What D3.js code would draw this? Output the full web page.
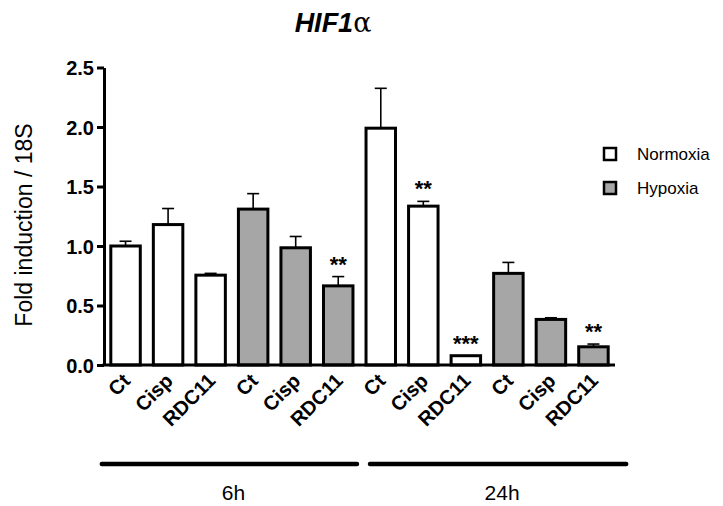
<!DOCTYPE html>
<html><head><meta charset="utf-8">
<script src="https://cdn.jsdelivr.net/npm/d3@7"></script>
<style>
body{margin:0;background:#fff;}
svg{display:block;font-family:"Liberation Sans",Arial,Helvetica,sans-serif;}
</style></head>
<body><svg id="c" width="723" height="506"></svg>
<script>
const categories = ["Ct","Cisp","RDC11","Ct","Cisp","RDC11","Ct","Cisp","RDC11","Ct","Cisp","RDC11"];
const conditions = ["Normoxia","Normoxia","Normoxia","Hypoxia","Hypoxia","Hypoxia","Normoxia","Normoxia","Normoxia","Hypoxia","Hypoxia","Hypoxia"];
const timepoints = ["6h","24h"];
const means = [1.00,1.18,0.755,1.31,0.985,0.665,1.99,1.335,0.078,0.77,0.383,0.153];
const sems  = [0.04,0.135,0.015,0.13,0.095,0.078,0.335,0.04,0.0,0.092,0.014,0.023];
const stars = ["","","","","","**","","**","***","","","**"];
const yTicks = [0,0.5,1.0,1.5,2.0,2.5];
const legendItems = ["Normoxia","Hypoxia"];
const fills = {Normoxia:"#ffffff", Hypoxia:"#a6a6a6"};

const svg = d3.select("#c");
const y = d3.scaleLinear().domain([0,2.5]).range([365,67.5]);
const x = d3.scaleBand().domain(d3.range(categories.length)).range([104,615]).paddingInner(0.307).paddingOuter(0.16);
const bw = x.bandwidth();

// title
const t = svg.append("text").attr("x",333).attr("y",32).attr("text-anchor","middle");
t.append("tspan").text("HIF1").attr("font-weight","bold").attr("font-style","italic").attr("font-size",27);
t.append("tspan").text("α").attr("font-family","'DejaVu Serif','Liberation Serif',serif").attr("font-size",27);

// y label
svg.append("text").attr("transform","translate(32,225) rotate(-90)").attr("text-anchor","middle")
  .attr("font-size",23).text("Fold induction / 18S");

// bars
const data = categories.map((c,i)=>({i,c,cond:conditions[i],m:means[i],s:sems[i],st:stars[i]}));
const g = svg.append("g");
data.filter(d=>d.s>0).forEach(d=>{
  const cx = x(d.i)+bw/2;
  g.append("line").attr("x1",cx).attr("x2",cx).attr("y1",y(d.m)).attr("y2",y(d.m+d.s)).attr("stroke","#000").attr("stroke-width",1.6);
  g.append("line").attr("x1",cx-6).attr("x2",cx+6).attr("y1",y(d.m+d.s)).attr("y2",y(d.m+d.s)).attr("stroke","#000").attr("stroke-width",1.6);
});
g.selectAll("rect").data(data).join("rect")
  .attr("x",d=>x(d.i)).attr("width",bw)
  .attr("y",d=>y(d.m)).attr("height",d=>y(0)-y(d.m))
  .attr("fill",d=>fills[d.cond]).attr("stroke","#000").attr("stroke-width",3);
g.selectAll("text.star").data(data.filter(d=>d.st)).join("text").attr("class","star")
  .attr("x",d=>x(d.i)+bw/2).attr("y",d=>y(d.m+d.s)-5).attr("text-anchor","middle")
  .attr("font-size",22).attr("font-weight","bold").text(d=>d.st);

// y axis
const ya = svg.append("g").attr("transform","translate(104,0)")
  .call(d3.axisLeft(y).tickValues(yTicks).tickFormat(d3.format(".1f")).tickSize(7).tickSizeOuter(0).tickPadding(3));
ya.select(".domain").attr("stroke-width",3);
ya.selectAll(".tick line").attr("stroke-width",3);
ya.selectAll(".tick text").attr("font-size",20).attr("font-weight","bold").attr("font-family","'Liberation Sans',Arial,sans-serif").attr("fill","#000").attr("dy","0.36em");

// x axis baseline
svg.append("line").attr("x1",102.5).attr("x2",615).attr("y1",y(0)).attr("y2",y(0)).attr("stroke","#000").attr("stroke-width",3);

// x labels
svg.selectAll("text.xl").data(data).join("text").attr("class","xl")
  .attr("transform",d=>`translate(${x(d.i)+bw/2+6},382) rotate(-45)`)
  .attr("text-anchor","end").attr("font-size",20).attr("font-weight","bold").text(d=>d.c);

// group lines
const groups = [
  {label:timepoints[0], x1:x(0)-9, x2:x(5)+bw+4},
  {label:timepoints[1], x1:x(6)+4, x2:x(11)+bw+18}
];
groups.forEach(gr=>{
  svg.append("line").attr("x1",gr.x1).attr("x2",gr.x2).attr("y1",464).attr("y2",464)
    .attr("stroke","#000").attr("stroke-width",4.5).attr("stroke-linecap","round");
  svg.append("text").attr("x",(gr.x1+gr.x2)/2+4).attr("y",500).attr("text-anchor","middle")
    .attr("font-size",21).text(gr.label);
});

// legend
legendItems.forEach((l,k)=>{
  svg.append("rect").attr("x",604).attr("y",148+k*34).attr("width",12).attr("height",12)
    .attr("fill",fills[l]).attr("stroke","#000").attr("stroke-width",2.5);
  svg.append("text").attr("x",637).attr("y",154+k*34).attr("dy","0.36em").attr("font-size",17).text(l);
});
</script></body></html>
